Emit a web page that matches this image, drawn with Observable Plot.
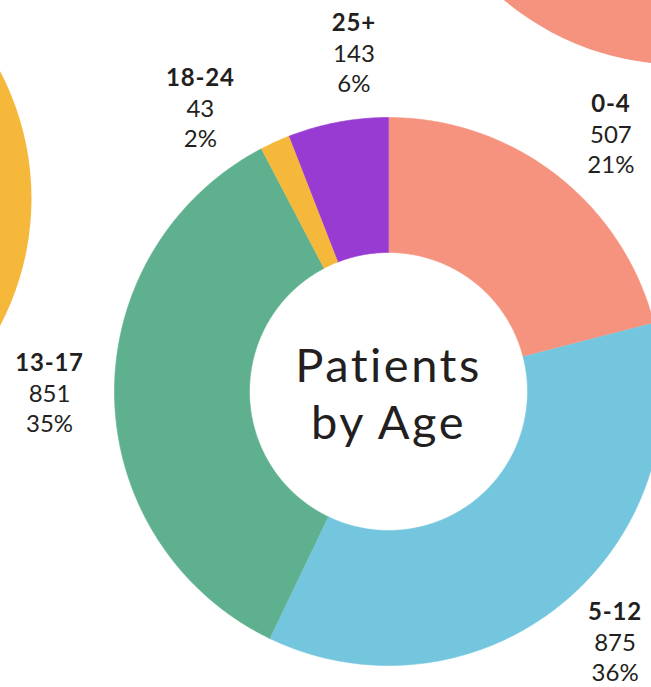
<!DOCTYPE html>
<html>
<head>
<meta charset="utf-8">
<script src="https://cdn.jsdelivr.net/npm/d3@7"></script>
<script src="https://cdn.jsdelivr.net/npm/@observablehq/plot@0.6"></script>
<style>
  html, body { margin: 0; padding: 0; background: #ffffff; overflow: hidden; }
  #chart svg { display: block; }
</style>
</head>
<body>
<div id="chart"></div>
<script>
// ---- data ----
const categories = ["0-4", "5-12", "13-17", "18-24", "25+"];
const counts = [507, 875, 851, 43, 143];
const percentLabels = ["21%", "36%", "35%", "2%", "6%"];
const sliceColors = ["#F5937F", "#74C6DE", "#5FB08F", "#F6B83A", "#983BD3"];
const titleText = "Patients\nby Age";
// neighbouring (cropped) donuts of the infographic, in the same pixel-unit frame
const neighbourX = [-631, 292];
const neighbourY = [193, 601];
const neighbourColors = ["#F6B83A", "#F5937F"];

// ---- layout ----
const W = 651, H = 687;
const cx = 388, cy = 391;       // donut centre in the picture
const R = 274, r0 = 139;        // outer / inner radius (px)
const labelR = 339;

const table = categories.map((c, i) => ({
  category: c, count: counts[i], pct: percentLabels[i], color: sliceColors[i]
}));
const arcs = d3.pie().sort(null).value(d => d.count)(table);

// polygon points for each slice
const slicePts = arcs.map(a => {
  const pts = [];
  const n = Math.max(4, Math.ceil((a.endAngle - a.startAngle) / (Math.PI / 360)));
  for (let k = 0; k <= n; k++) {
    const t = a.startAngle + (a.endAngle - a.startAngle) * k / n;
    pts.push({x: R * Math.sin(t), y: R * Math.cos(t)});
  }
  for (let k = n; k >= 0; k--) {
    const t = a.startAngle + (a.endAngle - a.startAngle) * k / n;
    pts.push({x: r0 * Math.sin(t), y: r0 * Math.cos(t)});
  }
  return {data: a.data, pts};
});

// label angles: mid angle nudged toward the nearest diagonal, spread apart when too close
const q = Math.PI / 4;
const labelAngles = arcs.map(a => {
  const m = (a.startAngle + a.endAngle) / 2;
  const snap = Math.round(m / q) * q;
  return m + 0.45 * (snap - m);
});
const minSep = 22 * Math.PI / 180;
for (let it = 0; it < 20; it++) {
  for (let i = 0; i < labelAngles.length; i++) {
    const j = (i + 1) % labelAngles.length;
    let d = labelAngles[j] - labelAngles[i];
    if (j === 0) d += 2 * Math.PI;
    if (d < minSep) {
      const push = (minSep - d) / 2;
      labelAngles[i] -= push;
      labelAngles[j] += push;
    }
  }
}
const labels = table.map((d, i) => ({
  ...d,
  lx: labelR * Math.sin(labelAngles[i]),
  ly: labelR * Math.cos(labelAngles[i])
}));
const neighbours = neighbourX.map((x, i) => ({x, y: neighbourY[i], color: neighbourColors[i]}));

const font = "Lato, 'Open Sans', sans-serif";
const ink = "#231F20";

const plot = Plot.plot({
  width: W,
  height: H,
  margin: 0,
  style: {background: "#ffffff"},
  x: {type: "linear", domain: [-cx, W - cx], range: [0, W], axis: null},
  y: {type: "linear", domain: [-(H - cy), cy], range: [H, 0], axis: null},
  marks: [
    Plot.dot(neighbours, {x: "x", y: "y", r: R, fill: d => d.color, stroke: null}),
    ...slicePts.map(s => Plot.line(s.pts, {
      x: "x", y: "y", fill: s.data.color, stroke: s.data.color, strokeWidth: 0.6, curve: "linear"
    })),
    Plot.text([titleText], {
      x: () => 0, y: () => 0, text: d => d,
      fontSize: 47, fontFamily: font, fontWeight: 400, fill: ink,
      lineHeight: 1.2, lineAnchor: "middle", textAnchor: "middle", dy: 1
    }),
    Plot.text(labels, {
      x: "lx", y: "ly", text: "category", dy: -31,
      fontSize: 24, fontWeight: 700, fontFamily: font, fill: ink, lineAnchor: "middle"
    }),
    Plot.text(labels, {
      x: "lx", y: "ly", text: d => String(d.count), dy: 0,
      fontSize: 24, fontWeight: 400, fontFamily: font, fill: ink, lineAnchor: "middle"
    }),
    Plot.text(labels, {
      x: "lx", y: "ly", text: "pct", dy: 30,
      fontSize: 24, fontWeight: 400, fontFamily: font, fill: ink, lineAnchor: "middle"
    })
  ]
});
// widen the letterforms a little to match the rounder display face of the reference
d3.select(plot).selectAll("text").each(function() {
  const t = this.textContent;
  if (t.includes("Patients")) this.style.letterSpacing = "2.5px";
  else if (this.getAttribute("font-weight") === "700" || this.parentNode.getAttribute("font-weight") === "700")
    this.style.letterSpacing = "0.8px";
});
document.getElementById("chart").appendChild(plot);
</script>
</body>
</html>
